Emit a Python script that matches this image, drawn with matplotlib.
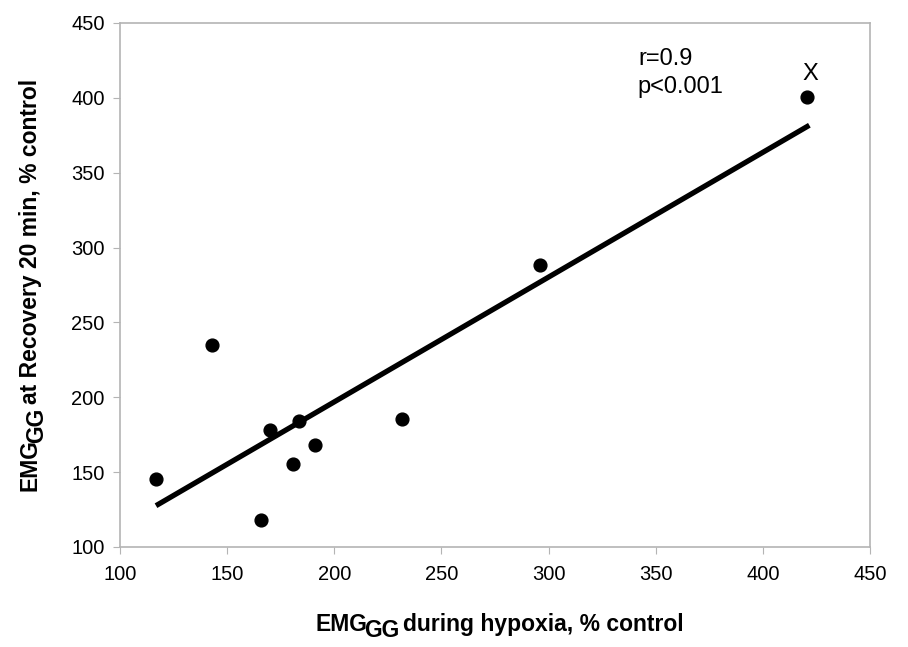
import numpy as np
import matplotlib
matplotlib.use('Agg')
import matplotlib.pyplot as plt
from matplotlib.transforms import IdentityTransform

plt.rcParams['font.family'] = ['Liberation Sans', 'DejaVu Sans']

# * valores
emg_hipoxia = [116.8, 142.9, 165.7, 170.0, 180.6, 183.5, 190.9, 231.7, 296.0, 420.4]
emg_recuperacao = [145.6, 235.1, 118.0, 178.2, 155.2, 184.4, 167.9, 185.5, 288.4, 400.5]

# * reta de regressao (extremos)
reta_x = [116.8, 421.7]
reta_y = [127.6, 381.7]

# * pedacos dos rotulos: (texto, deslocamento do subscrito em px)
rotulo_x = [('EMG', 0), ('GG', -6), ('during hypoxia, % control', 0)]
rotulo_y = [('EMG', 0), ('GG', -6), ('at Recovery 20 min, % control', 0)]

fig = plt.figure(figsize=(9.08, 6.47), dpi=100)
ax = fig.add_axes([120 / 908, 100 / 647, 750 / 908, 524 / 647])

ax.plot(reta_x, reta_y, color='black', linewidth=3.8, solid_capstyle='butt', zorder=2)
ax.plot(emg_hipoxia, emg_recuperacao, 'o', color='black', markersize=9.2, zorder=3)

ax.set_xlim(100, 450)
ax.set_ylim(100, 450)
ax.set_xticks(np.arange(100, 451, 50))
ax.set_yticks(np.arange(100, 451, 50))

for s in ax.spines.values():
    s.set_color('#b4b4b4')
    s.set_linewidth(1.2)
ax.tick_params(direction='out', length=5, color='#b4b4b4', labelsize=14.5)
ax.tick_params(axis='x', pad=8)
ax.tick_params(axis='y', pad=6)

ax.text(341.7, 422, 'r=0.9', fontsize=17, ha='left', va='baseline')
ax.text(341.7, 403.3, 'p<0.001', fontsize=17, ha='left', va='baseline')
ax.text(422.3, 416, 'X', fontsize=17, ha='center', va='center')


# * rotulo com subscrito do mesmo tamanho, montado em pedacos (em pixels)
def monta_rotulo(pecas, centro, base, vertical, tam=16.5):
    renderer = fig.canvas.get_renderer()
    espaco = 0.278 * tam * 100 / 72
    textos = []
    pos = 0
    for i, (s, desl) in enumerate(pecas):
        t = fig.text(0, 0, s, fontsize=tam, fontweight='bold', transform=IdentityTransform(),
                     ha='left', va='baseline', rotation=90 if vertical else 0,
                     rotation_mode='anchor')
        ext = t.get_window_extent(renderer)
        comp = ext.height if vertical else ext.width
        textos.append((t, pos, desl))
        pos += comp
        if i == 0:
            pos -= 4
        if i == 1:
            pos += espaco - 2
    inicio = centro - pos / 2
    for t, p, desl in textos:
        if vertical:
            t.set_position((base - desl, inicio + p))
        else:
            t.set_position((inicio + p, base + desl))


monta_rotulo(rotulo_x, 500, 647 - 631, False)
monta_rotulo(rotulo_y, 647 - 285, 37, True)

fig.savefig('out.png', dpi=100)
